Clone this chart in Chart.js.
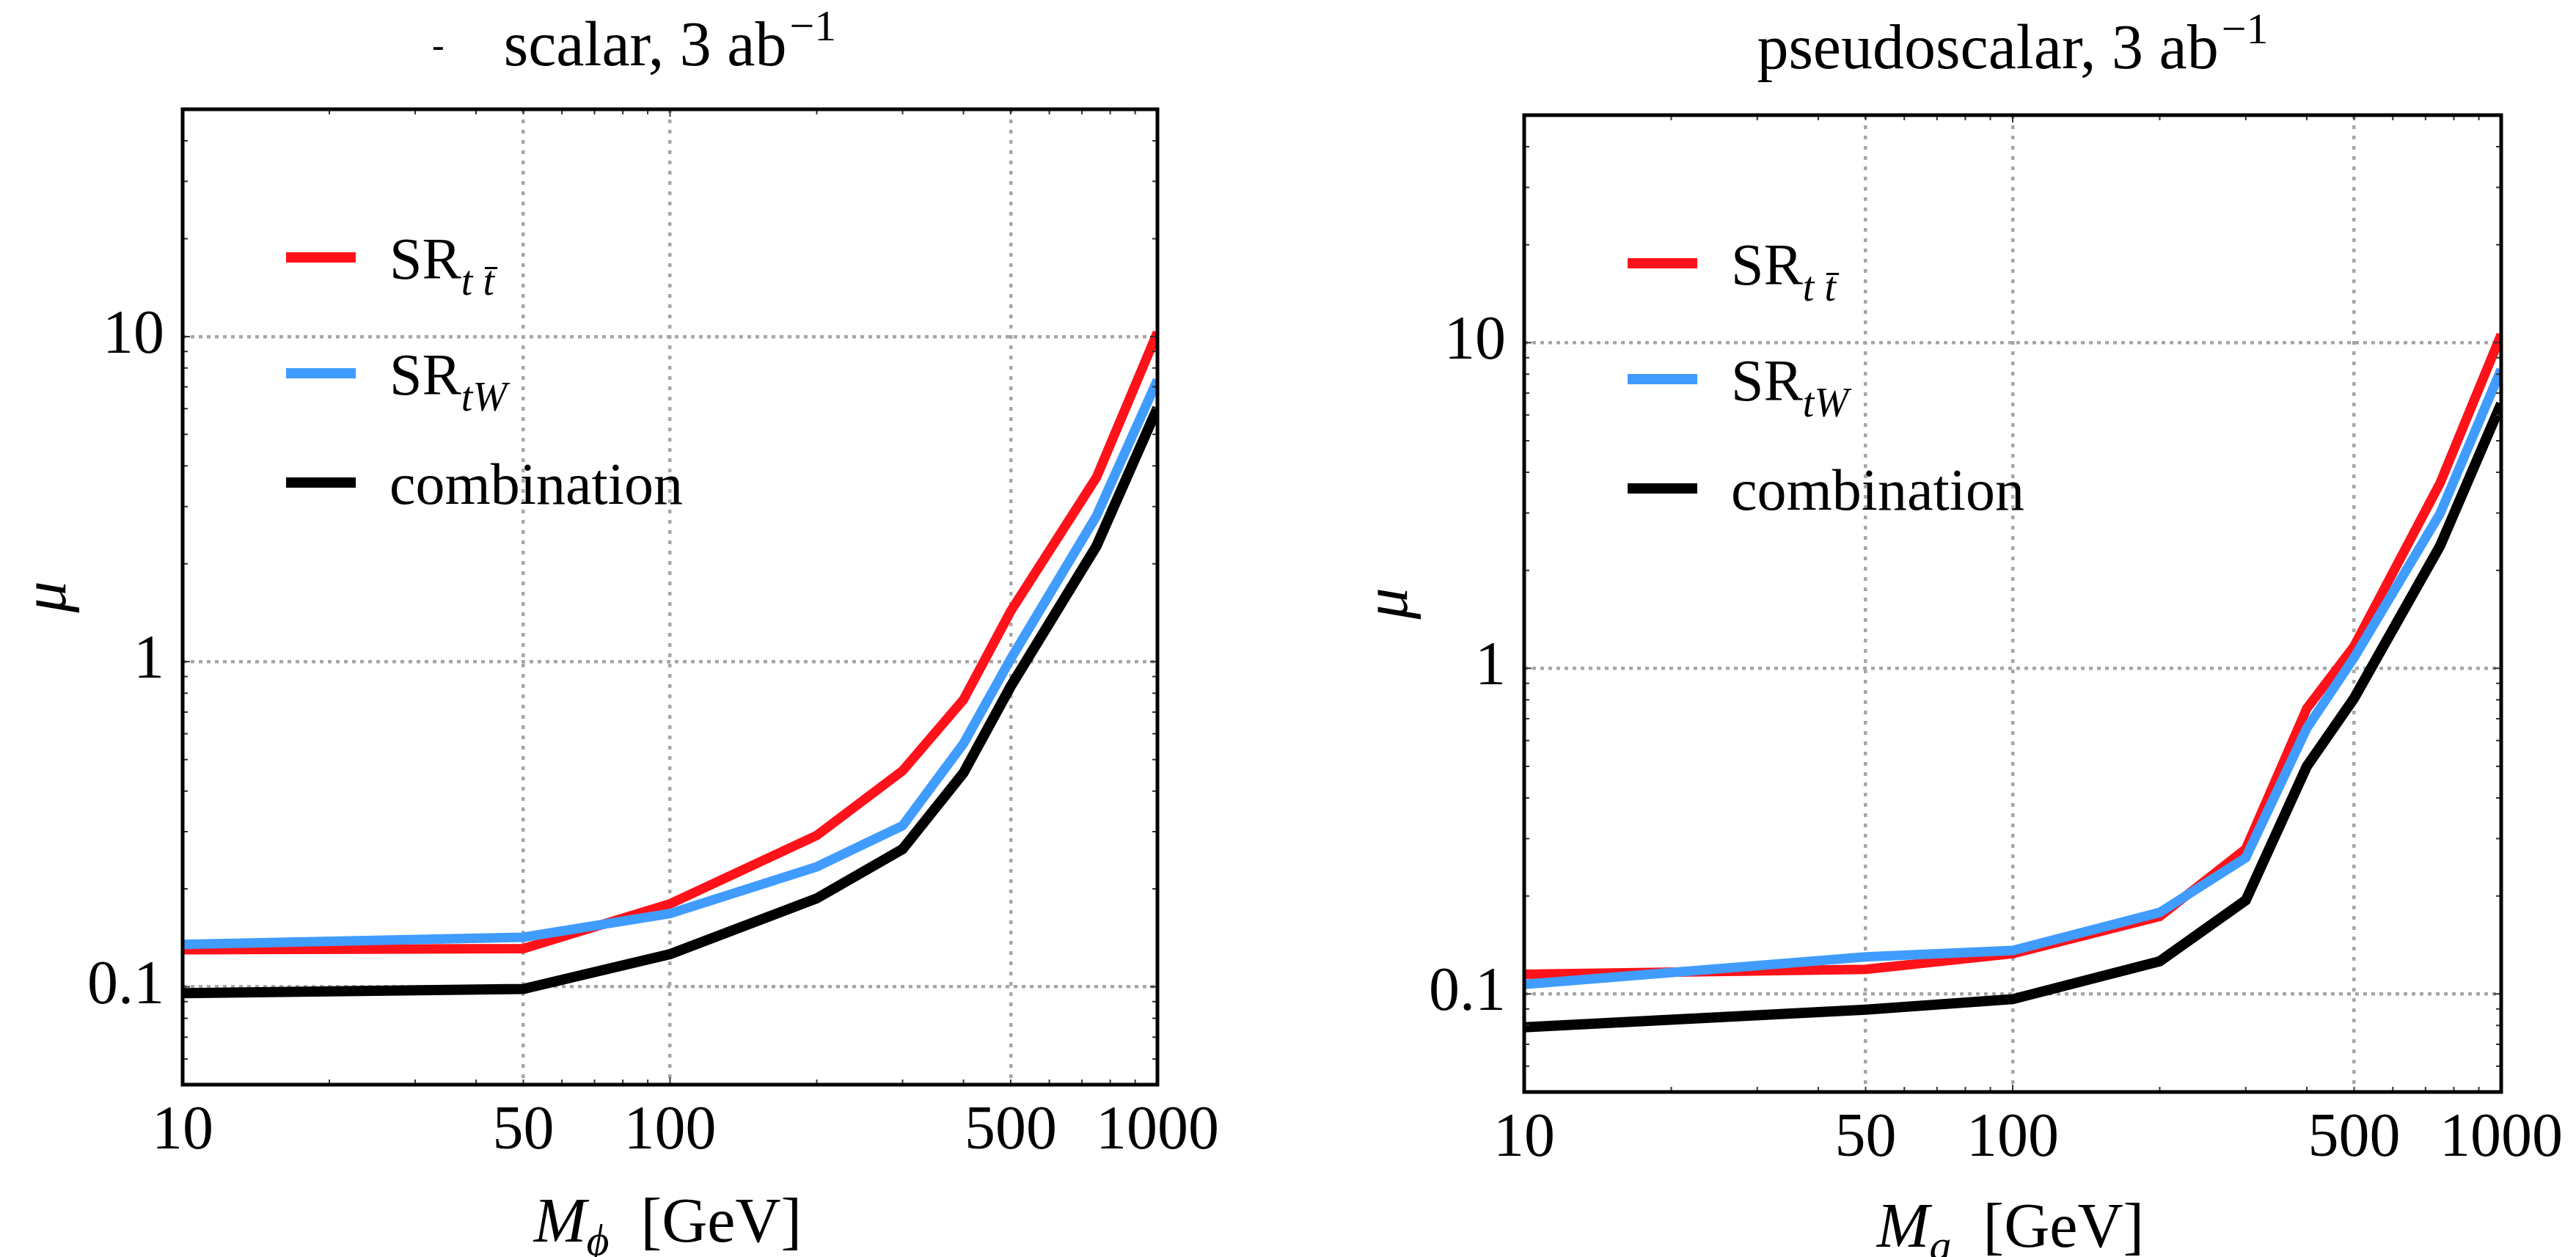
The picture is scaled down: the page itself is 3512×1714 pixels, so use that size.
<!DOCTYPE html>
<html>
<head>
<meta charset="utf-8">
<script src="https://cdn.jsdelivr.net/npm/chart.js@4.4.1/dist/chart.umd.min.js"></script>
<style>
  html, body { margin: 0; padding: 0; background: #fff; }
  #wrap { position: relative; width: 3512px; height: 1714px; }
  canvas { position: absolute; top: 0; }
</style>
</head>
<body>
<div id="wrap">
  <canvas id="scalarChart" width="1756" height="1714" style="left:0"></canvas>
  <canvas id="pseudoChart" width="1756" height="1714" style="left:1756px"></canvas>
</div>
<script>
// mass points (GeV)
const masses = [10, 50, 100, 200, 300, 400, 500, 750, 1000];

// scalar, 3 ab^-1
const scalarTT   = [0.130, 0.131, 0.180, 0.292, 0.462, 0.764, 1.43, 3.69, 10.3];
const scalarTW   = [0.135, 0.142, 0.168, 0.234, 0.313, 0.560, 1.02, 2.81, 7.35];
const scalarComb = [0.0956, 0.0985, 0.126, 0.187, 0.265, 0.455, 0.84, 2.27, 6.03];

// pseudoscalar, 3 ab^-1
const pseudoTT   = [0.115, 0.119, 0.133, 0.173, 0.279, 0.753, 1.17, 3.71, 10.6];
const pseudoTW   = [0.107, 0.130, 0.136, 0.178, 0.262, 0.655, 1.08, 2.99, 8.28];
const pseudoComb = [0.079, 0.0895, 0.0964, 0.126, 0.194, 0.50, 0.81, 2.38, 6.5];

// axes
const xRange = [10, 1000];
const yRange = [0.05, 50];
const xTickLabels = [10, 50, 100, 500, 1000];
const yTickLabels = [0.1, 1, 10];
const xGridLines = [50, 100, 500];
const yGridLines = [0.1, 1, 10];

// legend
const legendNames = ['SR', 'SR', 'combination'];
const legendSubs = ['t t\u0304', 'tW', ''];
const seriesColors = ['#ff1219', '#409cff', '#000000'];

const SERIF = "'Liberation Serif', 'Times New Roman', serif";
Chart.defaults.font.family = SERIF;

const near = (v, list) => list.some(l => Math.abs(v / l - 1) < 1e-6);
const isDecade = v => Math.abs(Math.log10(v) - Math.round(Math.log10(v))) < 1e-6;

// 1..9 x 10^k inside the range
function logTicks(min, max) {
    const out = [];
    for (let e = Math.floor(Math.log10(min)); e <= Math.ceil(Math.log10(max)); e++) {
        for (let m = 1; m <= 9; m++) {
            const v = +(m * Math.pow(10, e)).toPrecision(6);
            if (v >= min * (1 - 1e-9) && v <= max * (1 + 1e-9)) out.push(v);
        }
    }
    return out;
}

function fontOf(p) {
    return (p.italic ? 'italic ' : '') + p.size + 'px ' + SERIF;
}

// draw a run of text pieces (for sub/superscripts)
function richText(ctx, parts, x, y, align) {
    let w = 0;
    parts.forEach(p => { ctx.font = fontOf(p); w += (p.gap || 0) + ctx.measureText(p.text).width; });
    let cx = align === 'center' ? x - w / 2 : x;
    parts.forEach(p => {
        ctx.font = fontOf(p);
        cx += p.gap || 0;
        ctx.fillText(p.text, cx, y + (p.dy || 0));
        cx += ctx.measureText(p.text).width;
    });
}

const framePlugin = {
    id: 'frame',
    afterDraw(chart, args, opts) {
        const { ctx, chartArea: a, scales: { x, y } } = chart;
        ctx.save();

        // inward ticks on all four sides
        ctx.strokeStyle = '#333';
        ctx.lineWidth = 2;
        ctx.beginPath();
        x.ticks.forEach(t => {
            const px = x.getPixelForValue(t.value);
            const len = isDecade(t.value) ? 10 : 7;
            ctx.moveTo(px, a.bottom); ctx.lineTo(px, a.bottom - len);
            ctx.moveTo(px, a.top); ctx.lineTo(px, a.top + len);
        });
        y.ticks.forEach(t => {
            const py = y.getPixelForValue(t.value);
            const len = isDecade(t.value) ? 10 : 7;
            ctx.moveTo(a.left, py); ctx.lineTo(a.left + len, py);
            ctx.moveTo(a.right, py); ctx.lineTo(a.right - len, py);
        });
        ctx.stroke();

        // frame
        ctx.strokeStyle = '#000';
        ctx.lineWidth = 5;
        ctx.strokeRect(a.left, a.top, a.right - a.left, a.bottom - a.top);

        ctx.fillStyle = '#000';
        ctx.textBaseline = 'alphabetic';
        ctx.textAlign = 'left';

        // legend
        const rows = [202, 360, 509];
        legendNames.forEach((name, i) => {
            const cy = a.top + rows[i];
            ctx.fillStyle = seriesColors[i];
            ctx.fillRect(a.left + 141, cy - 7, 95, 14);
            ctx.fillStyle = '#000';
            const parts = [{ text: name, size: 80 }];
            if (legendSubs[i]) parts.push({ text: legendSubs[i], size: 56, italic: true, dy: 22 });
            richText(ctx, parts, a.left + 282, cy + 29, 'left');
        });

        const cx = (a.left + a.right) / 2;

        // title
        richText(ctx, opts.title, cx, opts.titleY, 'center');
        if (opts.mark) {
            ctx.font = '50px ' + SERIF;
            ctx.fillText('-', opts.mark, 78);
        }

        // x axis title
        richText(ctx, opts.xTitle, cx - 3, opts.xTitleY, 'center');

        // y axis title, rotated
        ctx.save();
        ctx.translate(a.left - 180, (a.top + a.bottom) / 2);
        ctx.rotate(-Math.PI / 2);
        ctx.textAlign = 'left';
        richText(ctx, [{ text: '\u03bc', size: 86, italic: true }], 0, 20, 'center');
        ctx.restore();

        ctx.restore();
    }
};

function makeChart(id, tt, tw, comb, geo, deco) {
    const ds = (label, data, color, order, width) => ({
        label, data: masses.map((m, i) => ({ x: m, y: data[i] })),
        borderColor: color, backgroundColor: color,
        borderWidth: width, pointRadius: 0, tension: 0,
        fill: false, order, clip: 0
    });
    return new Chart(document.getElementById(id), {
        type: 'line',
        data: {
            datasets: [
                ds('SR tt', tt, seriesColors[0], 3, 13),
                ds('SR tW', tw, seriesColors[1], 2, 13),
                ds('combination', comb, seriesColors[2], 1, 14)
            ]
        },
        options: {
            responsive: false,
            animation: false,
            devicePixelRatio: 1,
            layout: { padding: { left: 0, right: geo.R, top: geo.T, bottom: 0 } },
            plugins: {
                legend: { display: false },
                tooltip: { enabled: false },
                frame: deco
            },
            scales: {
                x: {
                    type: 'logarithmic',
                    min: xRange[0], max: xRange[1],
                    afterBuildTicks: s => { s.ticks = logTicks(xRange[0], xRange[1]).map(v => ({ value: v })); },
                    afterFit: s => { s.height = geo.H; },
                    ticks: {
                        autoSkip: false, maxRotation: 0, padding: 15,
                        color: '#000', font: { size: 84, family: SERIF },
                        callback: v => near(v, xTickLabels) ? String(v) : ''
                    },
                    grid: {
                        drawTicks: false,
                        lineWidth: 4.5,
                        color: c => c.tick && near(c.tick.value, xGridLines) ? '#a6a6a6' : 'rgba(0,0,0,0)'
                    },
                    border: { display: false, dash: [5, 9] }
                },
                y: {
                    type: 'logarithmic',
                    min: yRange[0], max: yRange[1],
                    afterBuildTicks: s => { s.ticks = logTicks(yRange[0], yRange[1]).map(v => ({ value: v })); },
                    afterFit: s => { s.width = geo.L; },
                    ticks: {
                        autoSkip: false, padding: 25,
                        color: '#000', font: { size: 84, family: SERIF },
                        callback: v => near(v, yTickLabels) ? String(v) : ''
                    },
                    grid: {
                        drawTicks: false,
                        lineWidth: 4.5,
                        color: c => c.tick && near(c.tick.value, yGridLines) ? '#a6a6a6' : 'rgba(0,0,0,0)'
                    },
                    border: { display: false, dash: [5, 6] }
                }
            }
        },
        plugins: [framePlugin]
    });
}

makeChart('scalarChart', scalarTT, scalarTW, scalarComb,
    { L: 249, R: 178, T: 149, H: 235 },
    {
        title: [{ text: 'scalar, 3 ab', size: 86 }, { text: '\u22121', size: 60, dy: -34, gap: 4 }],
        titleY: 89, mark: 589,
        xTitle: [{ text: 'M', size: 86, italic: true }, { text: '\u03d5', size: 60, italic: true, dy: 18 },
                 { text: '  [GeV]', size: 86 }],
        xTitleY: 1693
    });

makeChart('pseudoChart', pseudoTT, pseudoTW, pseudoComb,
    { L: 322, R: 102, T: 157, H: 225 },
    {
        title: [{ text: 'pseudoscalar, 3 ab', size: 86 }, { text: '\u22121', size: 60, dy: -34, gap: 4 }],
        titleY: 93,
        xTitle: [{ text: 'M', size: 86, italic: true }, { text: 'a', size: 60, italic: true, dy: 18 },
                 { text: '  [GeV]', size: 86 }],
        xTitleY: 1700
    });
</script>
</body>
</html>
